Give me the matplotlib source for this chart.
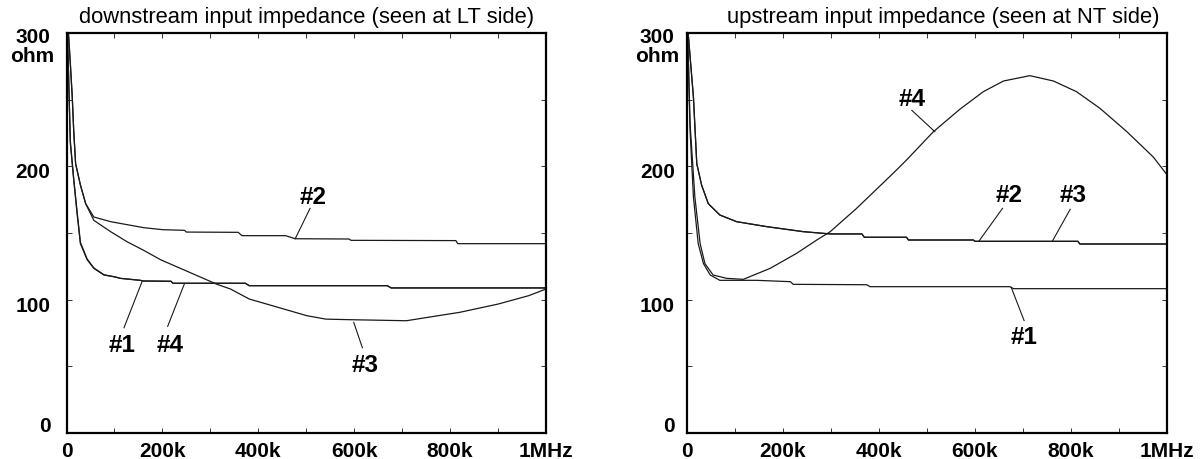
import matplotlib
matplotlib.use("Agg")
import matplotlib.pyplot as plt
from matplotlib.transforms import blended_transform_factory

# ---------------- data (frequency in kHz, impedance in ohm) ----------------
# downstream input impedance (seen at LT side)
ds1_f = [2, 8, 15, 22, 29, 43, 57, 78, 102, 112, 154, 160, 218, 222, 373, 381, 669, 677, 1000]
ds1_z = [300, 217, 190, 165, 142, 130, 123.5, 118.5, 117, 116, 114.5, 114, 113.8, 112.3, 112.3, 110.5, 110.5, 108.8, 108.8]
ds4_f = [2, 8, 15, 22, 29, 43, 57, 78, 102, 112, 154, 160, 218, 222, 373, 381, 669, 677, 1000]
ds4_z = [300, 219, 191, 166, 143, 130.5, 123.8, 118.7, 117, 116, 114.5, 114, 113.8, 112.3, 112.3, 110.5, 110.5, 108.8, 108.8]
ds2_f = [4, 8, 12, 15, 19, 29, 40, 57, 92, 161, 200, 246, 250, 358, 366, 457, 477, 589, 593, 812, 816, 1000]
ds2_z = [300, 277, 252, 227, 202, 186, 172, 162, 158.5, 154, 152.5, 152, 150.7, 150.5, 148, 148, 145.7, 145.5, 144.5, 144.3, 142, 142]
ds3_f = [4, 8, 12, 15, 19, 29, 40, 57, 92, 126, 161, 196, 231, 279, 314, 342, 381, 453, 501, 541, 589, 709, 765, 820, 900, 964, 1000]
ds3_z = [300, 277, 252, 227, 202, 186, 172, 159.5, 151, 143.5, 137, 130, 124.5, 117, 111.5, 108, 100.5, 93, 88, 85.4, 85, 84.2, 87.4, 90.5, 96.7, 103, 108]

# upstream input impedance (seen at NT side)
us1_f = [2, 7, 14, 24, 35, 49, 69, 146, 216, 222, 375, 382, 673, 681, 1000]
us1_z = [300, 227, 177, 142, 127, 118.5, 114.5, 114.5, 113.5, 111.5, 111.2, 109.75, 109.75, 108.25, 108.25]
us2_f = [3, 14, 21, 31, 45, 69, 104, 167, 243, 299, 365, 370, 458, 462, 597, 601, 815, 819, 1000]
us2_z = [300, 252, 202, 186, 172, 163.5, 158.5, 154.75, 151, 149.3, 149.3, 146.8, 146.8, 144.75, 144.75, 143.75, 143.75, 141.75, 141.75]
us3_f = [3, 14, 21, 31, 45, 69, 104, 167, 243, 299, 365, 370, 458, 462, 597, 601, 815, 819, 1000]
us3_z = [300, 252, 202, 186, 172, 163.5, 158.5, 154.75, 151, 149.3, 149.3, 146.8, 146.8, 144.75, 144.75, 143.75, 143.75, 141.75, 141.75]
us4_f = [2, 7, 17, 28, 38, 55, 83, 118, 174, 229, 271, 299, 354, 430, 458, 514, 569, 618, 660, 715, 764, 812, 861, 917, 972, 1000]
us4_z = [300, 232, 177, 142, 127, 118.5, 116, 115.25, 123.5, 134.75, 144.75, 151, 168.5, 194.75, 204.75, 226, 242.8, 256, 264, 268, 264, 256, 243.5, 226, 207, 194]

titles = ["downstream input impedance (seen at LT side)",
          "upstream input impedance (seen at NT side)"]
x_tick_labels = ["0", "200k", "400k", "600k", "800k", "1MHz"]
x_tick_values = [0, 200, 400, 600, 800, 1000]
y_tick_labels = ["0", "100", "200", "300"]

# curve labels: (text, label x, label y, leader start x, y, leader end x, y)
ds_labels = [("#2", 515, 176.6, 508, 168.5, 477, 145.7),
             ("#1", 115, 65.5, 120, 79, 158, 114),
             ("#4", 216, 65.5, 211, 80, 246, 112),
             ("#3", 622, 51, 617, 64, 599, 83)]
us_labels = [("#4", 469, 249.75, 469, 242, 517, 226),
             ("#2", 671, 177.9, 658, 168.5, 609, 144),
             ("#3", 805, 177.9, 799, 167.8, 762, 144),
             ("#1", 703, 71.6, 703, 84.25, 676, 109.3)]

# ---------------- layout ----------------
W, H = 1202, 459
fig = plt.figure(figsize=(W / 100, H / 100), dpi=100)
plt.rcParams['font.family'] = ['Liberation Sans', 'DejaVu Sans']

ax_bottom = (459 - 433) / H
ax_height = 400 / H
axL = fig.add_axes([66.5 / W, ax_bottom, 479.5 / W, ax_height])
axR = fig.add_axes([686.7 / W, ax_bottom, 480 / W, ax_height])

line_kw = dict(color="#1a1a1a", linewidth=0.9)

axL.plot(ds2_f, ds2_z, **line_kw)
axL.plot(ds3_f, ds3_z, **line_kw)
axL.plot(ds1_f, ds1_z, **line_kw)
axL.plot(ds4_f, ds4_z, **line_kw)

axR.plot(us2_f, us2_z, **line_kw)
axR.plot(us3_f, us3_z, **line_kw)
axR.plot(us1_f, us1_z, **line_kw)
axR.plot(us4_f, us4_z, **line_kw)

# y label positions (baseline, in data units)
y_label_base = {"0": 0.75, "100": 91, "200": 191.25, "300": 292.7}
ohm_base = 278.5
num_fs = 15

for ax, title, labels, yl_right, title_cx in [
        (axL, titles[0], ds_labels, -16, 0.5),
        (axR, titles[1], us_labels, -12, 0.534)]:
    ax.set_xlim(0, 1000)
    ax.set_ylim(0, 300)
    ax.set_xticks(range(0, 1001, 100))
    ax.set_yticks(range(0, 301, 50))
    ax.set_xticklabels([])
    ax.set_yticklabels([])
    ax.tick_params(direction="in", length=3.5, width=0.7, top=True, right=True,
                   color="#333333")
    for s in ax.spines.values():
        s.set_linewidth(1.6)
        s.set_color("black")
    ax.patch.set_alpha(0)

    # title
    ax.text(title_cx, 1 + 5 / 400, title, transform=ax.transAxes,
            ha="center", va="bottom", fontsize=15.8)

    # y labels
    tr = blended_transform_factory(ax.transAxes, ax.transData)
    xr = yl_right / 480
    for lab in y_tick_labels:
        ax.text(xr, y_label_base[lab], lab, transform=tr, ha="right",
                va="baseline", fontsize=num_fs, fontweight="bold", clip_on=False)
    ax.text(xr - 18 / 480, ohm_base, "ohm", transform=tr, ha="center",
            va="baseline", fontsize=num_fs, fontweight="bold", clip_on=False)

    # x labels
    trx = blended_transform_factory(ax.transData, ax.transAxes)
    for v, lab in zip(x_tick_values, x_tick_labels):
        ax.text(v, -23.7 / 400, lab, transform=trx, ha="center",
                va="baseline", fontsize=num_fs, fontweight="bold", clip_on=False)

    # curve labels
    for txt, lx, ly, sx, sy, ex, ey in labels:
        ax.plot([sx, ex], [sy, ey], color="#1a1a1a", linewidth=0.8)
        ax.text(lx, ly, txt, ha="center", va="center", fontsize=17.5,
                fontweight="bold")

fig.savefig("out.png", dpi=100)
